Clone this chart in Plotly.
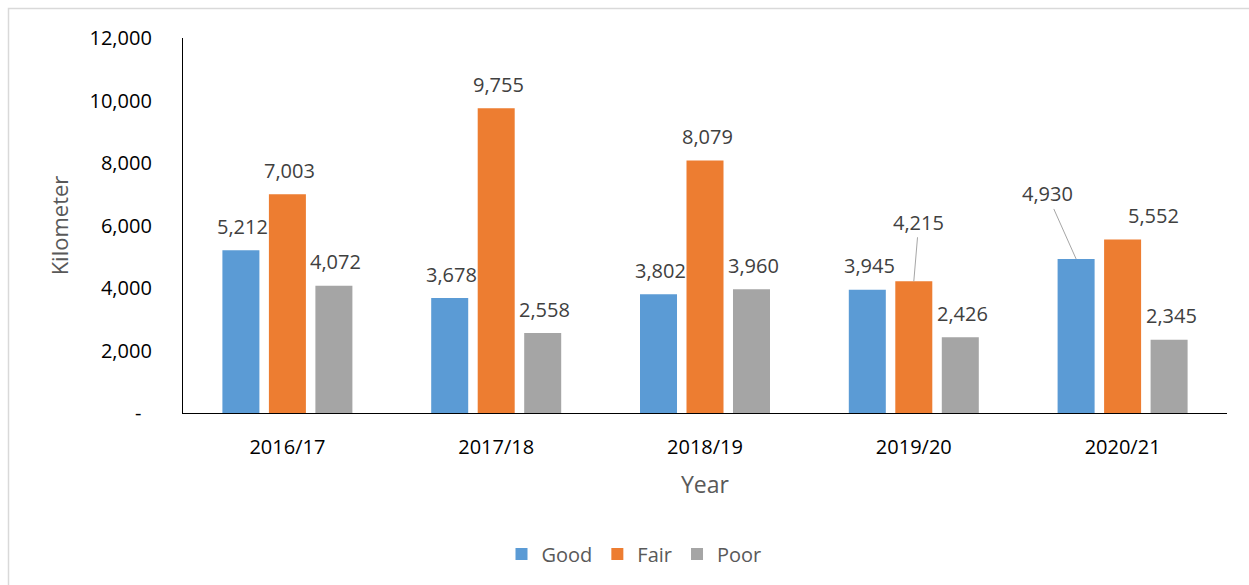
import plotly.graph_objects as go

# Road network condition by year (km)
years = ["2016/17", "2017/18", "2018/19", "2019/20", "2020/21"]
good = [5212, 3678, 3802, 3945, 4930]
fair = [7003, 9755, 8079, 4215, 5552]
poor = [4072, 2558, 3960, 2426, 2345]

series_names = ["Good", "Fair", "Poor"]
series_colors = ["#5B9BD5", "#ED7D31", "#A5A5A5"]
y_ticks = [0, 2000, 4000, 6000, 8000, 10000, 12000]

BARGAP = 0.332
GROUPGAP = 0.204
FONT = "Open Sans"

fig = go.Figure()
for name, vals, col in zip(series_names, [good, fair, poor], series_colors):
    fig.add_trace(go.Bar(
        x=years, y=vals, name=name,
        marker=dict(color=col, line=dict(width=0)),
        hoverinfo="x+y+name",
    ))

# data labels above each bar; a few are nudged aside with leader lines
slot = (1 - BARGAP) / 3
label_font = dict(family=FONT, size=20, color="#404040")
special = {
    (3, 1): dict(showarrow=True, ax=5, ay=-59),
    (4, 0): dict(showarrow=True, ax=-29, ay=-65),
    (4, 1): dict(showarrow=False, xshift=31, yshift=24),
}
for j, vals in enumerate([good, fair, poor]):
    for i, v in enumerate(vals):
        xpos = i + (j - 1) * slot
        base = dict(x=xpos, y=v, xref="x", yref="y", text=f"{v:,}",
                    font=label_font)
        opt = special.get((i, j))
        if opt is None:
            fig.add_annotation(**base, showarrow=False, xshift=2, yshift=24,
                               yanchor="middle")
        elif opt.get("showarrow"):
            fig.add_annotation(**base, showarrow=True, arrowhead=0,
                               arrowwidth=1, arrowcolor="#A6A6A6",
                               axref="pixel", ayref="pixel",
                               ax=opt["ax"], ay=opt["ay"])
        else:
            fig.add_annotation(**base, showarrow=False, xshift=opt["xshift"],
                               yshift=opt["yshift"], yanchor="middle")

# outer chart frame
fig.add_shape(type="rect", xref="paper", yref="paper",
              x0=(8.5 - 183) / 1044, x1=(1300 - 183) / 1044,
              y0=(413 - 640) / 375, y1=(413 - 8.5) / 375,
              line=dict(color="#D9D9D9", width=1.5), fillcolor="rgba(0,0,0,0)",
              layer="below")

fig.update_layout(
    width=1249, height=585,
    margin=dict(l=183, r=22, t=38, b=172),
    paper_bgcolor="white", plot_bgcolor="white",
    barmode="group", bargap=BARGAP, bargroupgap=GROUPGAP,
    font=dict(family=FONT, color="#000000"),
    showlegend=True,
    legend=dict(orientation="h", x=(634 - 183) / 1044, xanchor="center",
                y=(413 - 554) / 375, yanchor="middle",
                font=dict(family=FONT, size=20, color="#595959"),
                bgcolor="rgba(0,0,0,0)", traceorder="normal"),
    xaxis=dict(
        showline=True, linecolor="#000000", linewidth=1.3,
        showgrid=False, ticks="", ticklabelstandoff=16,
        tickfont=dict(family=FONT, size=20, color="#000000"),
        title=dict(text="Year", font=dict(family=FONT, size=23, color="#595959"),
                   standoff=17),
        automargin=False,
    ),
    yaxis=dict(
        range=[0, 12000], showline=True, linecolor="#000000", linewidth=1.3,
        showgrid=False, zeroline=False, ticks="",
        tickvals=y_ticks,
        ticktext=[("-&nbsp;&nbsp;" if t == 0 else f"{t:,}") for t in y_ticks],
        ticklabelstandoff=26,
        tickfont=dict(family=FONT, size=20, color="#000000"),
        title=dict(text="Kilometer", font=dict(family=FONT, size=22, color="#595959"),
                   standoff=14),
        automargin=False,
    ),
)

fig.write_html("out.html")
